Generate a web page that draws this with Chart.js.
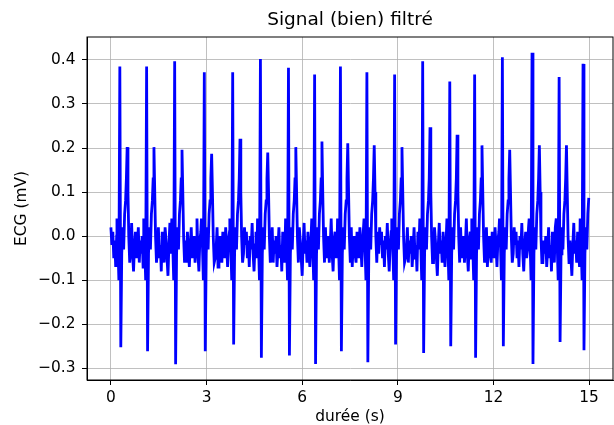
<!DOCTYPE html>
<html>
<head>
<meta charset="utf-8">
<script src="https://cdn.jsdelivr.net/npm/chart.js@4"></script>
<style>
    html, body { margin: 0; padding: 0; background: #fff; }
    #ecg { display: block; }
</style>
</head>
<body>
<canvas id="ecg" width="614" height="425"></canvas>
<script>
// values
const beatTimes = [0.28, 1.12, 2.00, 2.93, 3.82, 4.69, 5.57, 6.39, 7.20, 8.03, 8.90, 9.78, 10.63, 11.41, 12.28, 13.21, 14.06, 14.81];
const rPeaks = [0.385, 0.385, 0.397, 0.372, 0.372, 0.402, 0.382, 0.367, 0.385, 0.372, 0.367, 0.397, 0.351, 0.367, 0.406, 0.416, 0.361, 0.391];
const sDips = [-0.252, -0.261, -0.291, -0.261, -0.246, -0.276, -0.271, -0.290, -0.261, -0.286, -0.246, -0.265, -0.250, -0.276, -0.250, -0.290, -0.240, -0.259];
const tPeaks = [0.202, 0.202, 0.196, 0.187, 0.221, 0.190, 0.202, 0.215, 0.211, 0.206, 0.202, 0.247, 0.230, 0.206, 0.196, 0.206, 0.206];
const endTime = 14.99;
const endValue = 0.087;

// one heartbeat as seen on the trace, seconds from the R peak
const beatOffsets = [-0.09, -0.06, -0.03, 0, 0.03, 0.06, 0.09, 0.12, 0.15, 0.18, 0.205, 0.23, 0.255, 0.28, 0.31];
const beatShape = [0.04, -0.02, -0.10, 'R', 'S', -0.04, 0.02, -0.03, 0.05, 0.08, 0.13, 'T', 0.10, 0.00, -0.06];

// baseline ripple between beats, read sample by sample
const baseline = [0.02, -0.02, 0.01, -0.05, -0.01, -0.07, 0.00, -0.03, 0.03, -0.04, -0.08, -0.02, 0.01, -0.05,
    -0.03, 0.02, -0.06, -0.01, -0.04, 0.00, -0.07, -0.03, 0.02, -0.05, -0.02, -0.08, 0.01, -0.03, -0.06, 0.02,
    -0.01, -0.05, -0.09, -0.02, 0.03, -0.04, -0.01, -0.06, 0.01, -0.03, -0.07, -0.02, 0.02, -0.05, -0.03, 0.00,
    -0.06, -0.02, 0.04, -0.04, -0.08, -0.01, 0.01, -0.05, -0.03, 0.02, -0.07, -0.02, 0.00, -0.04, -0.06, 0.01,
    -0.03, -0.05, 0.02, -0.02, -0.07, -0.01, 0.01, -0.04];
const baseStep = 0.03;

const xTicks = [0, 3, 6, 9, 12, 15];
const yTicks = [-0.3, -0.2, -0.1, 0.0, 0.1, 0.2, 0.3, 0.4];

function buildTrace() {
    const pts = [];
    let t = 0;
    let k = 0;
    beatTimes.forEach((tr, i) => {
        const start = tr + beatOffsets[0];
        while (t < start - 0.01) {
            pts.push({ x: t, y: baseline[k % baseline.length] });
            k++;
            t += baseStep;
        }
        const last = i === beatTimes.length - 1;
        beatOffsets.forEach((off, j) => {
            let v = beatShape[j];
            if (v === 'R') v = rPeaks[i];
            if (v === 'S') v = sDips[i];
            if (v === 'T') v = tPeaks[i];
            if (last && tr + off >= endTime) return;
            pts.push({ x: tr + off, y: v });
        });
        if (last) pts.push({ x: endTime, y: endValue });
        t = tr + beatOffsets[beatOffsets.length - 1] + baseStep;
    });
    return pts;
}

const FONT = 'DejaVu Sans';
const fmtY = v => (v < -1e-9 ? '\u2212' : '') + Math.abs(v).toFixed(1);

const framePlugin = {
    id: 'frame',
    afterDatasetsDraw(chart) {
        const { ctx, chartArea: a } = chart;
        ctx.save();
        ctx.strokeStyle = '#000';
        ctx.lineWidth = 1;
        ctx.strokeRect(a.left, a.top, a.right - a.left, a.bottom - a.top);
        ctx.restore();
    }
};

new Chart(document.getElementById('ecg'), {
    type: 'scatter',
    data: {
        datasets: [{
            data: buildTrace(),
            showLine: true,
            borderColor: '#0000ff',
            borderWidth: 2.8,
            pointRadius: 0,
            tension: 0
        }]
    },
    options: {
        responsive: false,
        animation: false,
        layout: { padding: { left: 0, right: 1, top: 0, bottom: 0 } },
        plugins: {
            legend: { display: false },
            tooltip: { enabled: false },
            title: {
                display: true,
                text: 'Signal (bien) filtré',
                color: '#000',
                fullSize: false,
                font: { family: FONT, size: 18.5, weight: 'normal', lineHeight: '22px' },
                padding: { top: 9, bottom: 6 }
            }
        },
        scales: {
            x: {
                type: 'linear',
                min: -0.75,
                max: 15.75,
                afterBuildTicks: s => { s.ticks = xTicks.map(v => ({ value: v })); },
                afterFit: s => { s.height = 45; },
                grid: { color: '#b0b0b0', lineWidth: 0.8, tickLength: 5, tickColor: '#000', tickWidth: 1 },
                border: { display: true, color: '#000', width: 1 },
                ticks: { color: '#000', font: { family: FONT, size: 15.4 }, padding: 4, maxRotation: 0 },
                title: { display: true, text: 'durée (s)', color: '#000', font: { family: FONT, size: 15.4, lineHeight: 1 }, padding: { top: 0, bottom: 0 } }
            },
            y: {
                type: 'linear',
                min: -0.3265,
                max: 0.452,
                afterBuildTicks: s => { s.ticks = yTicks.map(v => ({ value: v })); },
                afterFit: s => { s.width = 87; },
                grid: { color: '#b0b0b0', lineWidth: 0.8, tickLength: 5, tickColor: '#000', tickWidth: 1 },
                border: { display: true, color: '#000', width: 1 },
                ticks: { color: '#000', font: { family: FONT, size: 15.4 }, padding: 6.5, callback: v => fmtY(v) },
                title: { display: true, text: 'ECG (mV)', color: '#000', font: { family: FONT, size: 15.4, lineHeight: 1 }, padding: { top: 14.3, bottom: 0 } }
            }
        }
    },
    plugins: [framePlugin]
});
</script>
</body>
</html>
